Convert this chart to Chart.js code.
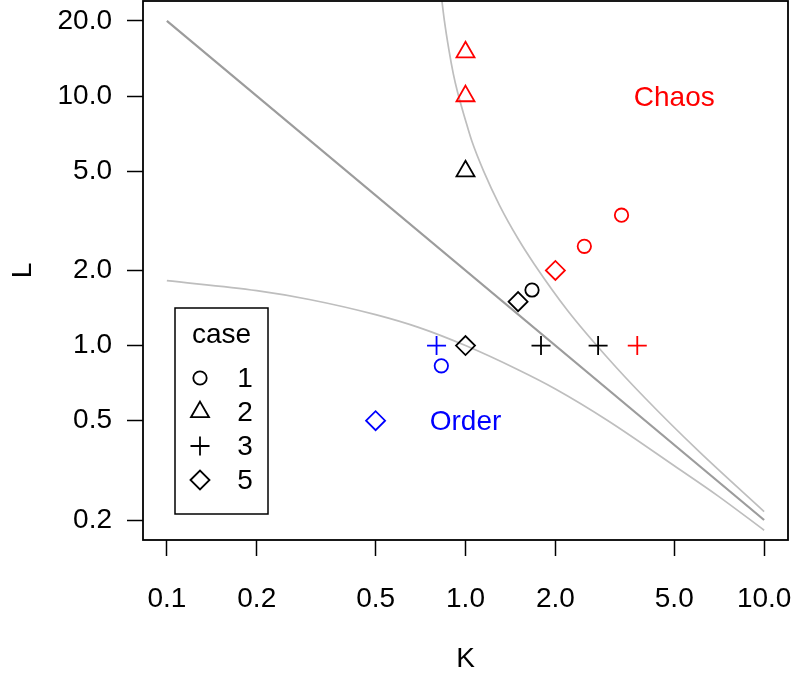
<!DOCTYPE html>
<html>
<head>
<meta charset="utf-8">
<script src="https://cdn.jsdelivr.net/npm/chart.js@4.4.0/dist/chart.umd.min.js"></script>
<style>
  html, body { margin: 0; padding: 0; background: #fff; }
  #wrap { width: 793px; height: 679px; }
</style>
</head>
<body>
<div id="wrap"><canvas id="chart" width="793" height="679"></canvas></div>
<script>
// axes (log-log)
const kTicks = [0.1, 0.2, 0.5, 1, 2, 5, 10];
const lTicks = [0.2, 0.5, 1, 2, 5, 10, 20];
const kRange = [0.0832, 12.02];
const lRange = [0.1663, 24.04];

// observed runs [K, L], grouped by case and outcome colour
const case1Order = [[0.83, 0.83]];
const case1Mid = [[1.67, 1.67]];
const case1Chaos = [[2.5, 2.5], [3.33, 3.33]];
const case2Mid = [[1, 5]];
const case2Chaos = [[1, 10], [1, 15]];
const case3Order = [[0.8, 1]];
const case3Mid = [[1.79, 1], [2.78, 1]];
const case3Chaos = [[3.76, 1]];
const case5Order = [[0.5, 0.5]];
const case5Mid = [[1, 1], [1.5, 1.5]];
const case5Chaos = [[2, 2]];

// boundary curves
const upperK = [0.82, 0.85, 0.88, 0.91, 0.94, 1.0, 1.05, 1.15, 1.3, 1.5, 1.7, 2.2, 3.0, 4.0, 6.0, 10];
const upperL = [28.5, 20, 15.3, 12.3, 10.4, 8.0, 6.6, 5.0, 3.65, 2.68, 2.12, 1.38, 0.89, 0.615, 0.38, 0.216];
const diagK = [0.1, 10];
const diagL = [20, 0.2];
const lowerK = [0.1, 0.2, 0.3, 0.5, 0.7, 1.0, 1.5, 2.0, 3.0, 5.0, 7.0, 10];
const lowerL = [1.82, 1.66, 1.53, 1.33, 1.18, 1.0, 0.8, 0.67, 0.5, 0.33, 0.25, 0.182];

// region labels
const regionText = ["Chaos", "Order"];
const regionK = [5, 1];
const regionL = [10, 0.5];
const regionColor = ["#ff0000", "#0000ff"];

// legend
const legendTitle = "case";
const legendCases = ["1", "2", "3", "5"];
const caseStyles = ["circle", "triangle", "cross", "rectRot"];
const caseRadius = [6.7, 10.4, 9.5, 9.5];

const FONT = "'Liberation Sans', Arial, sans-serif";
const FSIZE = 28;
Chart.defaults.font.family = FONT;
Chart.defaults.font.size = FSIZE;
Chart.defaults.color = "#000";

const toXY = (pairs) => pairs.map(([x, y]) => ({ x: x, y: y }));
const zip = (xs, ys) => xs.map((x, i) => ({ x: x, y: ys[i] }));

function markers(pairs, style, color) {
  const i = caseStyles.indexOf(style);
  return {
    data: toXY(pairs),
    showLine: false,
    pointStyle: style,
    pointRadius: caseRadius[i],
    pointBackgroundColor: "transparent",
    pointBorderColor: color,
    pointBorderWidth: 1.8,
  };
}

function curve(xs, ys, color, width) {
  return {
    data: zip(xs, ys),
    showLine: true,
    pointRadius: 0,
    borderColor: color,
    borderWidth: width,
    cubicInterpolationMode: "monotone",
  };
}

const datasets = [
  markers(case1Order, "circle", "#0000ff"),
  markers(case1Mid, "circle", "#000"),
  markers(case1Chaos, "circle", "#ff0000"),
  markers(case2Mid, "triangle", "#000"),
  markers(case2Chaos, "triangle", "#ff0000"),
  markers(case3Order, "cross", "#0000ff"),
  markers(case3Mid, "cross", "#000"),
  markers(case3Chaos, "cross", "#ff0000"),
  markers(case5Order, "rectRot", "#0000ff"),
  markers(case5Mid, "rectRot", "#000"),
  markers(case5Chaos, "rectRot", "#ff0000"),
  curve(upperK, upperL, "#bebebe", 1.7),
  curve(diagK, diagL, "#9c9c9c", 2.2),
  curve(lowerK, lowerL, "#bebebe", 1.7),
];

const decorations = {
  id: "decorations",
  afterDatasetsDraw(chart) {
    const ctx = chart.ctx;
    const ca = chart.chartArea;
    const xs = chart.scales.x, ys = chart.scales.y;
    ctx.save();

    // plot frame
    ctx.strokeStyle = "#000";
    ctx.lineWidth = 1.8;
    ctx.strokeRect(ca.left, ca.top, ca.right - ca.left, ca.bottom - ca.top);

    // region labels (R centres on the glyphs, nudge down a touch)
    ctx.font = FSIZE + "px " + FONT;
    ctx.textAlign = "center";
    ctx.textBaseline = "middle";
    regionText.forEach((t, i) => {
      ctx.fillStyle = regionColor[i];
      ctx.fillText(t, xs.getPixelForValue(regionK[i]), ys.getPixelForValue(regionL[i]) + 2);
    });

    // legend box
    const lx = ca.left + 32, lw = 93;
    const lb = ca.bottom - 26, lh = 206;
    const ly = lb - lh;
    ctx.fillStyle = "#fff";
    ctx.fillRect(lx, ly, lw, lh);
    ctx.strokeStyle = "#000";
    ctx.lineWidth = 1.5;
    ctx.strokeRect(lx, ly, lw, lh);
    ctx.fillStyle = "#000";
    ctx.fillText(legendTitle, lx + lw / 2, ly + 27);
    legendCases.forEach((c, i) => {
      const y = ly + 70 + i * 34;
      ctx.strokeStyle = "#000";
      ctx.fillStyle = "transparent";
      ctx.lineWidth = 1.8;
      Chart.helpers.drawPoint(ctx, {
        pointStyle: caseStyles[i],
        radius: caseRadius[i],
        rotation: 0,
        borderWidth: 1.8,
      }, lx + 25, y);
      ctx.fillStyle = "#000";
      ctx.fillText(c, lx + 70, y + 1);
    });
    ctx.restore();
  },
};

function fmt(v) {
  return Number(v).toFixed(1);
}

new Chart(document.getElementById("chart"), {
  type: "scatter",
  data: { datasets: datasets },
  options: {
    responsive: false,
    animation: false,
    devicePixelRatio: 1,
    layout: { autoPadding: false, padding: { left: 0, right: 5, top: 1, bottom: 0 } },
    plugins: { legend: { display: false }, tooltip: { enabled: false } },
    scales: {
      x: {
        type: "logarithmic",
        min: kRange[0],
        max: kRange[1],
        afterFit: (s) => { s.height = 139; s.paddingLeft = 0; s.paddingRight = 0; },
        afterBuildTicks: (s) => { s.ticks = kTicks.map((v) => ({ value: v })); },
        ticks: { callback: fmt, autoSkip: false, maxRotation: 0, padding: 26, color: "#000" },
        grid: { display: true, drawOnChartArea: false, drawTicks: true, tickLength: 16, tickColor: "#000", tickWidth: 1.5 },
        border: { display: false },
        title: { display: true, text: "K", color: "#000", padding: { top: 0, bottom: 3 } },
      },
      y: {
        type: "logarithmic",
        min: lRange[0],
        max: lRange[1],
        afterFit: (s) => { s.width = 143; s.paddingTop = 0; s.paddingBottom = 0; },
        afterBuildTicks: (s) => { s.ticks = lTicks.map((v) => ({ value: v })); },
        ticks: { callback: fmt, autoSkip: false, padding: 15, color: "#000" },
        grid: { display: true, drawOnChartArea: false, drawTicks: true, tickLength: 16, tickColor: "#000", tickWidth: 1.5 },
        border: { display: false },
        title: { display: true, text: "L", color: "#000", padding: { top: 6, bottom: 0 } },
      },
    },
  },
  plugins: [decorations],
});
</script>
</body>
</html>
